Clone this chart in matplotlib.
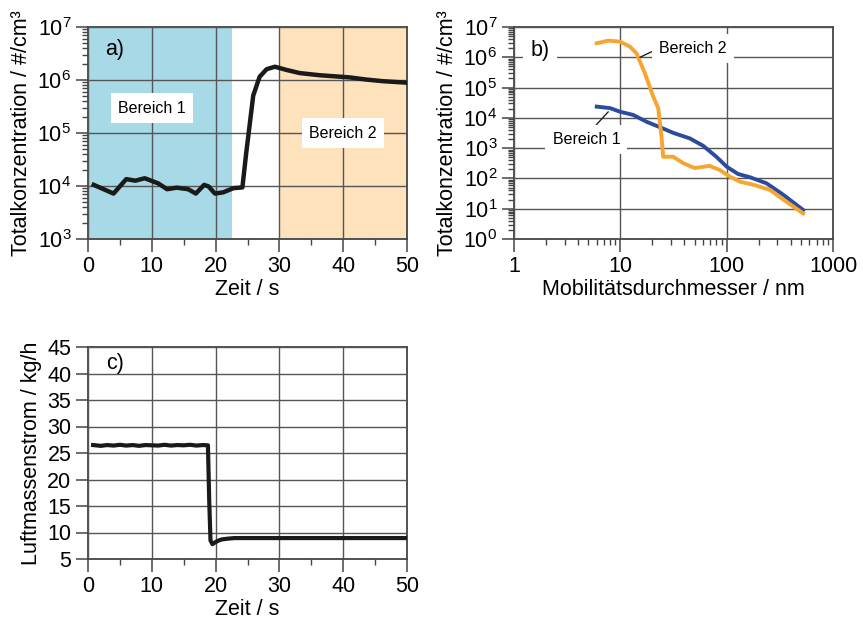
import numpy as np
import matplotlib
matplotlib.use("Agg")
import matplotlib.pyplot as plt
from matplotlib.ticker import FixedLocator, FuncFormatter, LogLocator, NullFormatter, MultipleLocator

plt.rcParams['font.family'] = ['Liberation Sans', 'DejaVu Sans']
plt.rcParams['mathtext.fontset'] = 'custom'
plt.rcParams['mathtext.rm'] = 'Liberation Sans'
plt.rcParams['mathtext.it'] = 'Liberation Sans:italic'
plt.rcParams['mathtext.bf'] = 'Liberation Sans:bold'

# ---- data panel a) ----
t_a = [0.9, 4.0, 6.0, 7.4, 8.9, 11.0, 12.4, 13.9, 15.7, 16.9, 18.2, 18.9, 19.9, 21.2,
       22.8, 24.2, 24.8, 25.9, 26.9, 28.0, 29.3, 31.1, 33.2, 36.3, 41.0, 43.6, 46.2, 50.0]
c_a = [1.05e4, 7.2e3, 1.35e4, 1.26e4, 1.4e4, 1.12e4, 8.7e3, 9.3e3, 8.7e3, 7.2e3, 1.05e4,
       9.8e3, 7.2e3, 7.6e3, 9.1e3, 9.4e3, 4.2e4, 5.1e5, 1.15e6, 1.6e6, 1.78e6, 1.55e6,
       1.35e6, 1.23e6, 1.12e6, 1.02e6, 9.5e5, 8.9e5]
region1 = (0, 22.6)
region2 = (30, 50)

# ---- data panel b) ----
d_b2 = [6.0, 7.7, 9.9, 12.3, 14.2, 17.0, 20.4, 22.7, 24.4, 25.3, 31.4, 39, 50, 69, 86,
        107, 133, 178, 255, 364, 524]
c_b2 = [2.9e6, 3.55e6, 3.3e6, 2.25e6, 1.35e6, 3.0e5, 5.0e4, 2.1e4, 2.4e3, 5.2e2, 5.2e2,
        3.2e2, 2.2e2, 2.6e2, 1.9e2, 1.15e2, 78, 62, 42, 17, 7]
d_b1 = [6.0, 8.0, 9.9, 13.2, 17.7, 23.6, 31.4, 45, 60, 80, 100, 128, 165, 237, 340, 524]
c_b1 = [2.35e4, 2.1e4, 1.6e4, 1.25e4, 7.4e3, 4.9e3, 3.2e3, 2.1e3, 1.2e3, 5.2e2, 2.45e2,
        1.4e2, 1.1e2, 69, 29, 9.1]

# ---- data panel c) ----
t_c = [0.8, 2, 3, 4, 5, 6, 7, 8, 9, 10, 11, 12, 13, 14, 15, 16, 17, 18, 18.8, 19.0,
       19.2, 19.5, 20, 20.5, 21, 22, 23, 30, 40, 50]
m_c = [26.5, 26.35, 26.5, 26.4, 26.55, 26.4, 26.5, 26.35, 26.5, 26.45, 26.4, 26.55,
       26.4, 26.5, 26.45, 26.55, 26.4, 26.5, 26.45, 16.0, 8.5, 7.8, 8.2, 8.5, 8.7,
       8.85, 8.95, 8.95, 8.95, 8.95]

FS = 15.5
GRID = '#555555'
SPINE = '#444444'

fig = plt.figure(figsize=(8.63, 6.22), dpi=100)
W, H = 863, 622
def rect(l, t, r, b):
    return [l / W, 1 - b / H, (r - l) / W, (b - t) / H]

ax_a = fig.add_axes(rect(88, 27, 407, 239))
ax_b = fig.add_axes(rect(514, 27, 833, 239))
ax_c = fig.add_axes(rect(88, 347, 407, 559))

def pow_fmt(v, pos):
    e = int(round(np.log10(v)))
    return r'$\mathregular{10^{%d}}$' % e

def style(ax):
    for s in ax.spines.values():
        s.set_color(SPINE)
        s.set_linewidth(1.3)
    ax.tick_params(which='major', direction='out', length=9, width=1.1, color=SPINE,
                   labelsize=FS, pad=3)
    ax.tick_params(which='minor', direction='out', length=4.5, width=1.0, color=SPINE)
    ax.grid(True, which='major', color=GRID, linewidth=1.0)
    ax.set_axisbelow(False)

# panel a
ax_a.axvspan(*region1, color='#A8D9E6', lw=0, zorder=0)
ax_a.axvspan(*region2, color='#FDE2BB', lw=0, zorder=0)
ax_a.plot(t_a, c_a, color='#1a1a1a', lw=3.2, solid_joinstyle='round', zorder=3)
ax_a.set_yscale('log')
ax_a.set_ylim(1e3, 1e7)
ax_a.set_xlim(0, 50)
ax_a.xaxis.set_major_locator(MultipleLocator(10))
ax_a.xaxis.set_minor_locator(MultipleLocator(5))
ax_a.yaxis.set_major_locator(LogLocator(base=10, numticks=10))
ax_a.yaxis.set_minor_locator(LogLocator(base=10, subs=np.arange(2, 10), numticks=20))
ax_a.yaxis.set_major_formatter(FuncFormatter(pow_fmt))
ax_a.yaxis.set_minor_formatter(NullFormatter())
style(ax_a)
ax_a.set_xlabel('Zeit / s', fontsize=FS, labelpad=2)
ax_a.set_ylabel('Totalkonzentration / #/cm³', fontsize=FS, labelpad=4)
ax_a.text(2.7, 10**6.57, 'a)', fontsize=FS, ha='left', va='center', zorder=4)
box = dict(boxstyle='square,pad=0.45', fc='white', ec='none')
ax_a.text(10, 10**5.47, 'Bereich 1', fontsize=11.5, ha='center', va='center', bbox=box, zorder=4)
ax_a.text(40, 10**5.0, 'Bereich 2', fontsize=11.5, ha='center', va='center', bbox=box, zorder=4)

# panel b
ax_b.plot(d_b1, c_b1, color='#2B4C9E', lw=2.8, solid_joinstyle='round', zorder=3)
ax_b.plot(d_b2, c_b2, color='#F7A530', lw=2.8, solid_joinstyle='round', zorder=3)
ax_b.set_xscale('log')
ax_b.set_yscale('log')
ax_b.set_xlim(1, 1000)
ax_b.set_ylim(1, 1e7)
ax_b.xaxis.set_major_locator(FixedLocator([1, 10, 100, 1000]))
ax_b.xaxis.set_major_formatter(FuncFormatter(lambda v, p: '%d' % v))
ax_b.xaxis.set_minor_locator(LogLocator(base=10, subs=np.arange(2, 10), numticks=20))
ax_b.xaxis.set_minor_formatter(NullFormatter())
ax_b.yaxis.set_major_locator(LogLocator(base=10, numticks=10))
ax_b.yaxis.set_minor_locator(LogLocator(base=10, subs=np.arange(2, 10), numticks=20))
ax_b.yaxis.set_major_formatter(FuncFormatter(pow_fmt))
ax_b.yaxis.set_minor_formatter(NullFormatter())
style(ax_b)
ax_b.set_xlabel('Mobilitätsdurchmesser / nm', fontsize=FS, labelpad=2)
ax_b.set_ylabel('Totalkonzentration / #/cm³', fontsize=FS, labelpad=4)
ax_b.text(1.75, 10**6.24, 'b)', fontsize=FS, ha='center', va='center',
          bbox=dict(boxstyle='square,pad=0.35', fc='white', ec='none'), zorder=4)
ax_b.annotate('Bereich 2', xy=(15.3, 10**6.0), xytext=(48, 10**6.3), fontsize=11.5,
              ha='center', va='center', bbox=box, zorder=4,
              arrowprops=dict(arrowstyle='-', color='#222222', lw=1.0, shrinkA=0, shrinkB=0,
                              relpos=(0, 0.5)))
ax_b.annotate('Bereich 1', xy=(7.7, 10**4.2), xytext=(4.8, 10**3.29), fontsize=11.5,
              ha='center', va='center', bbox=box, zorder=4,
              arrowprops=dict(arrowstyle='-', color='#222222', lw=1.0, shrinkA=0, shrinkB=0,
                              relpos=(0.55, 1.0)))

# panel c
ax_c.plot(t_c, m_c, color='#1a1a1a', lw=3.0, solid_joinstyle='round', zorder=3)
ax_c.set_xlim(0, 50)
ax_c.set_ylim(5, 45)
ax_c.xaxis.set_major_locator(MultipleLocator(10))
ax_c.xaxis.set_minor_locator(MultipleLocator(5))
ax_c.yaxis.set_major_locator(MultipleLocator(5))
style(ax_c)
ax_c.set_xlabel('Zeit / s', fontsize=FS, labelpad=2)
ax_c.set_ylabel('Luftmassenstrom / kg/h', fontsize=FS, labelpad=4)
ax_c.text(2.8, 41.8, 'c)', fontsize=FS, ha='left', va='center', zorder=4)

fig.savefig('out.png', dpi=100)
